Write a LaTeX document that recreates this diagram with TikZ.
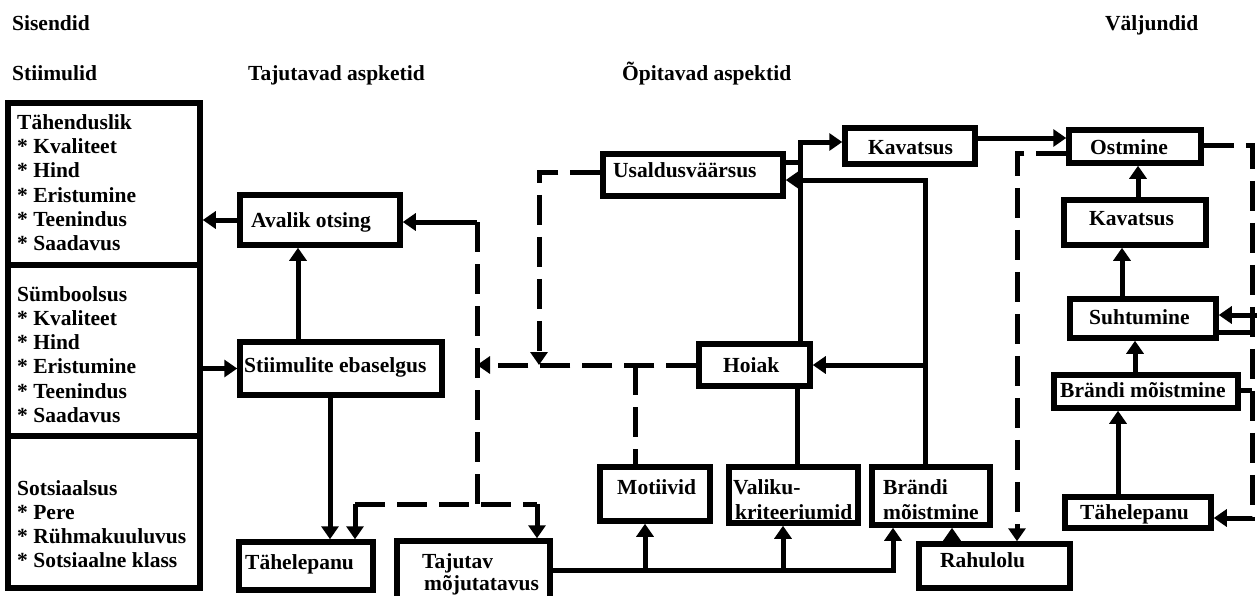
\documentclass[tikz,border=0pt]{standalone}
\usepackage{fontspec}
\setmainfont{Liberation Serif}
\usetikzlibrary{arrows.meta,fit,calc}
\begin{document}
\begin{tikzpicture}[x=1pt,y=-1pt,
  box/.style={draw,line width=5.5pt,inner sep=0pt},
  lbl/.style={anchor=base west,inner sep=0pt,font=\bfseries\fontsize{21.5}{24}\selectfont},
  con/.style={line width=5pt},
  tip/.style={-{Triangle[length=13pt,width=17pt]}},
  arr/.style={con,tip},
  dsh/.style={con,dash pattern=on 30pt off 12pt},
]
\fill[white] (0,0) rectangle (1257,595);
\useasboundingbox (0,0) rectangle (1257,595);

% boxes
\node[box,fit={(8,103)(200,588)}] (stim) {};
\node[box,fit={(240,195)(400,245)}] (avalik) {};
\node[box,fit={(240,342)(442,395)}] (stiim) {};
\node[box,fit={(239,542)(373,590)}] (tahel1) {};
\node[box,fit={(397,541)(550,600)}] (tajutav) {};
\node[box,fit={(603,154)(783,196)}] (usald) {};
\node[box,fit={(699,344)(810,386)}] (hoiak) {};
\node[box,fit={(600,467)(710,521)}] (motiiv) {};
\node[box,fit={(729,467)(858,523)}] (valiku) {};
\node[box,fit={(872,467)(990,525)}] (brandi1) {};
\node[box,fit={(919,544)(1070,588)}] (rahul) {};
\node[box,fit={(845,128)(975,164)}] (kavat1) {};
\node[box,fit={(1069,130)(1201,163)}] (ostmine) {};
\node[box,fit={(1064,200)(1206,245)}] (kavat2) {};
\node[box,fit={(1070,299)(1216,338)}] (suht) {};
\node[box,fit={(1054,375)(1238,408)}] (brandi2) {};
\node[box,fit={(1065,497)(1211,528)}] (tahel2) {};

% dividers in the stimulus box
\coordinate (d1) at (0,265);
\coordinate (d2) at (0,436);
\draw[line width=5.5pt] (stim.west |- d1) -- (stim.east |- d1);
\draw[line width=5.5pt] (stim.west |- d2) -- (stim.east |- d2);

% headers
\node[lbl] (hSis) at (12,30) {Sisendid};
\node[lbl] (hVal) at (1105,30) {Väljundid};
\node[lbl] (hSti) at (12,80) {Stiimulid};
\node[lbl] (hTaj) at (248,80) {Tajutavad aspketid};
\node[lbl] (hOpi) at (622,80) {Õpitavad aspektid};

% stimulus texts
\foreach \t/\yy [count=\i] in {Tähenduslik/122,* Kvaliteet/146,* Hind/170,* Eristumine/195,* Teenindus/219,* Saadavus/243,
  Sümboolsus/294,* Kvaliteet/318,* Hind/342,* Eristumine/366,* Teenindus/391,* Saadavus/415,
  Sotsiaalsus/488,* Pere/512,* Rühmakuuluvus/536,* Sotsiaalne klass/560}
  \node[lbl] (st\i) at (17,{\yy+7}) {\t};

% box texts
\node[lbl] (tAvalik) at (251,227) {Avalik otsing};
\node[lbl] (tStiim) at (244,372) {Stiimulite ebaselgus};
\node[lbl] (tTahel1) at (245,569) {Tähelepanu};
\node[lbl] (tTaj1) at (422,568) {Tajutav};
\node[lbl] (tTaj2) at (424,590) {mõjutatavus};
\node[lbl] (tUsald) at (613,177) {Usaldusväärsus};
\node[lbl] (tHoiak) at (723,372) {Hoiak};
\node[lbl] (tMot) at (617,494) {Motiivid};
\node[lbl] (tVal1) at (733,494) {Valiku-};
\node[lbl] (tVal2) at (735,519) {kriteeriumid};
\node[lbl] (tBr1) at (883,494) {Brändi};
\node[lbl] (tBr2) at (883,519) {mõistmine};
\node[lbl] (tRah) at (940,567) {Rahulolu};
\node[lbl] (tKav1) at (868,154) {Kavatsus};
\node[lbl] (tOst) at (1090,154) {Ostmine};
\node[lbl] (tKav2) at (1089,225) {Kavatsus};
\node[lbl] (tSuht) at (1089,324) {Suhtumine};
\node[lbl] (tBr3) at (1060,397) {Brändi mõistmine};
\node[lbl] (tTahel2) at (1080,519) {Tähelepanu};

% helper coordinates
\coordinate (jAv) at (477,222);
\coordinate (jBot) at (477,504);
\coordinate (jL) at (355,504);
\coordinate (jR) at (537,504);
\coordinate (jH) at (477,365);
\coordinate (jU1) at (539,172);
\coordinate (jU2) at (539,365);
\coordinate (jM) at (635,365);
\coordinate (bus1) at (893,570);
\coordinate (jB1) at (925,180);
\coordinate (jB2) at (925,365);
\coordinate (jK) at (800,142);
\coordinate (jK2) at (800,162);
\coordinate (y138) at (0,138);
\coordinate (jO1) at (1017,153);
\coordinate (jO2) at (1252,145);
\coordinate (jO3) at (1252,518);
\coordinate (eS) at (1262,315);
\coordinate (jS) at (1252,332);
\coordinate (jBr) at (1252,390);
\coordinate (x298) at (298,0);
\coordinate (x330) at (330,0);
\coordinate (x645) at (645,0);
\coordinate (x783) at (783,0);
\coordinate (x797) at (797,0);
\coordinate (x952) at (952,0);
\coordinate (x1118) at (1118,0);
\coordinate (x1122) at (1122,0);
\coordinate (x1135) at (1135,0);
\coordinate (x1138) at (1138,0);

% connectors: perceptual part
\draw[arr] (avalik.west) -- (avalik.west -| stim.east);
\draw[arr] (stim.east |- stiim.west) -- (stiim.west);
\draw[arr] (stiim.north -| x298) -- (avalik.south -| x298);
\draw[arr] (stiim.south -| x330) -- (tahel1.north -| x330);
\draw[arr] (jAv) -- (avalik.east |- jAv);
\draw[dsh] (jAv) -- (jBot);
\draw[dsh] (jL) -- (jR);
\draw[arr] (jL) -- (tahel1.north -| jL);
\draw[arr] (jR) -- (tajutav.north -| jR);
\draw[dsh,tip] (hoiak.west) -- (jH);
\draw[dsh,tip] (usald.west |- jU1) -- (jU1) -- (jU2);
\draw[dsh] (jM) -- (motiiv.north -| jM);

% learning part
\draw[con] (hoiak.south -| x797) -- (valiku.north -| x797);
\draw[arr] (tajutav.east |- bus1) -- (bus1) -- (brandi1.south -| bus1);
\draw[arr] (bus1 -| x645) -- (motiiv.south -| x645);
\draw[arr] (bus1 -| x783) -- (valiku.south -| x783);
\draw[arr] (rahul.north -| x952) -- (brandi1.south -| x952);
\draw[arr] (brandi1.north -| jB1) -- (jB1) -- (usald.east |- jB1);
\draw[arr] (jB2) -- (hoiak.east |- jB2);
\draw[arr] (hoiak.north -| jK) -- (jK) -- (kavat1.west |- jK);
\draw[con] (usald.east |- jK2) -- (jK2);
\draw[arr] (kavat1.east |- y138) -- (ostmine.west |- y138);
\draw[dsh,tip] (ostmine.west |- jO1) -- (jO1) -- (rahul.north -| jO1);

% outputs
\draw[arr] (kavat2.north -| x1138) -- (ostmine.south -| x1138);
\draw[arr] (suht.north -| x1122) -- (kavat2.south -| x1122);
\draw[arr] (brandi2.north -| x1135) -- (suht.south -| x1135);
\draw[arr] (tahel2.north -| x1118) -- (brandi2.south -| x1118);
\draw[dsh,tip] (ostmine.east |- jO2) -- (jO2) -- (jO3) -- (tahel2.east |- jO3);
\draw[arr] (eS) -- (suht.east |- eS);
\draw[con] (suht.east |- jS) -- (jS);
\draw[con] (brandi2.east |- jBr) -- (jBr);
\end{tikzpicture}
\end{document}
